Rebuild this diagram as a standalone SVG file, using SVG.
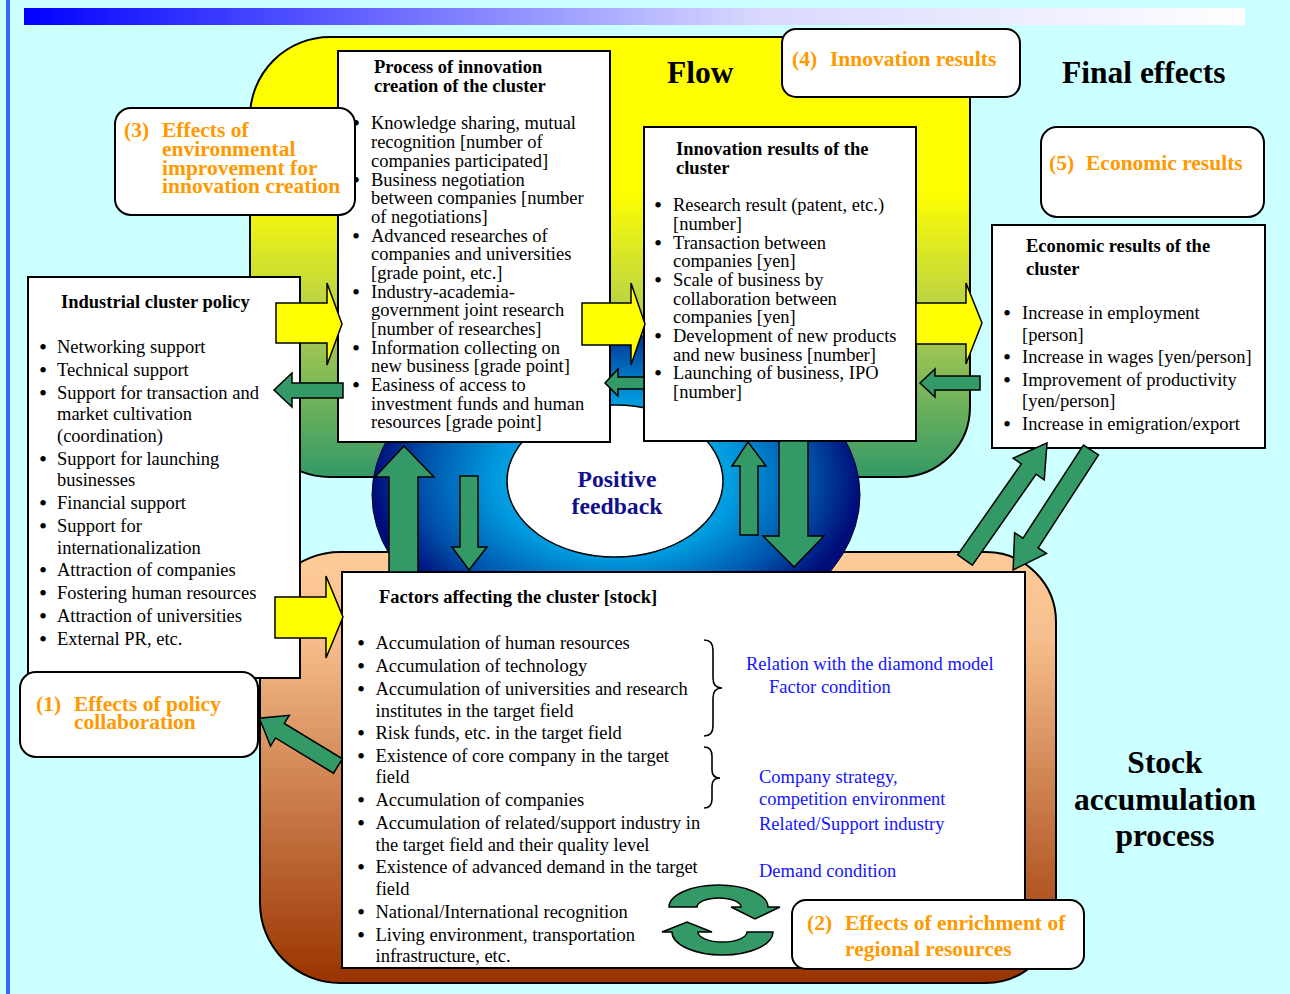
<svg xmlns="http://www.w3.org/2000/svg" width="1290" height="994" viewBox="0 0 1290 994">
<defs>
<linearGradient id="topbar" x1="0" y1="0" x2="1" y2="0">
<stop offset="0" stop-color="#0000FF"/><stop offset="0.6" stop-color="#D8D8FF"/><stop offset="1" stop-color="#FFFFFF"/>
</linearGradient>
<linearGradient id="flowg" gradientUnits="userSpaceOnUse" x1="0" y1="37" x2="0" y2="477">
<stop offset="0" stop-color="#FFFF00"/><stop offset="0.35" stop-color="#FFFF00"/><stop offset="0.65" stop-color="#B0CC50"/><stop offset="1" stop-color="#339966"/>
</linearGradient>
<linearGradient id="stockg" gradientUnits="userSpaceOnUse" x1="0" y1="552" x2="0" y2="983">
<stop offset="0" stop-color="#FFCC99"/><stop offset="0.2" stop-color="#F6BE8C"/><stop offset="1" stop-color="#993300"/>
</linearGradient>
<radialGradient id="blueg" cx="0.5" cy="0.45" r="0.5">
<stop offset="0" stop-color="#22CCFF"/><stop offset="0.5" stop-color="#0099DD"/><stop offset="0.8" stop-color="#0050A8"/><stop offset="1" stop-color="#000C7A"/>
</radialGradient>
<style>
.t{font-family:"Liberation Serif","Times New Roman",serif;font-size:18.5px;fill:#000}
.bu{font-family:"Liberation Serif","Times New Roman",serif;font-size:23px;fill:#000}
.b{font-weight:bold}
.lbl{font-family:"Liberation Serif","Times New Roman",serif;font-size:21.5px;font-weight:bold;fill:#FF9900}
.blue{fill:#1414FF}
.big{font-family:"Liberation Serif","Times New Roman",serif;font-size:31.5px;font-weight:bold;fill:#000}
.box{fill:#FFFFFF;stroke:#000;stroke-width:2}
.lb{fill:#FFFFFF;stroke:#000;stroke-width:2}
.ya{fill:#FFFF00;stroke:#000;stroke-width:1.5;stroke-linejoin:miter}
.ga{fill:#339966;stroke:#000;stroke-width:1.5;stroke-linejoin:miter}
.br{fill:none;stroke:#000;stroke-width:1.6}
</style>
</defs>

<rect x="0" y="0" width="1290" height="994" fill="#CCFFFF"/>
<rect x="6" y="0" width="4" height="994" fill="#3366FF"/>
<rect x="24" y="8" width="1221" height="17" fill="url(#topbar)"/>

<g id="flow-area">
<path d="M250,117 A80,80 0 0 1 330,37 L910,37 A60,60 0 0 1 970,97 L970,407 A70,70 0 0 1 900,477 L330,477 A80,80 0 0 1 250,397 Z" fill="url(#flowg)" stroke="#000" stroke-width="2"/>
</g>
<g id="stock-area">
<path d="M260,632 A80,80 0 0 1 340,552 L986,552 A70,70 0 0 1 1056,622 L1056,913 A70,70 0 0 1 986,983 L340,983 A80,80 0 0 1 260,903 Z" fill="url(#stockg)" stroke="#000" stroke-width="2"/>
</g>

<g id="positive-feedback">
<ellipse cx="616" cy="495" rx="244" ry="160" fill="url(#blueg)" stroke="#000033" stroke-width="1"/>
<ellipse cx="615" cy="481" rx="108" ry="76" fill="#FFFFFF" stroke="#000" stroke-width="1.5"/>
<text x="617" y="487" text-anchor="middle" font-family="Liberation Serif, Times New Roman, serif" font-size="23.7" font-weight="bold" fill="#10108C">Positive</text>
<text x="617" y="514" text-anchor="middle" font-family="Liberation Serif, Times New Roman, serif" font-size="23.7" font-weight="bold" fill="#10108C">feedback</text>
</g>

<g id="headings">
<text class="big" x="667" y="83">Flow</text>
<text class="big" x="1062" y="83">Final effects</text>
<text class="big" x="1165" y="773" text-anchor="middle">Stock</text>
<text class="big" x="1165" y="810" text-anchor="middle">accumulation</text>
<text class="big" x="1165" y="846" text-anchor="middle">process</text>
</g>

<g id="process-box">
<rect class="box" x="338" y="51" width="272" height="391"/>
<text class="t b" x="374" y="73">Process of innovation</text>
<text class="t b" x="374" y="92">creation of the cluster</text>
<g class="bu">
<text x="352" y="131">•</text><text x="352" y="187.5">•</text><text x="352" y="243.5">•</text>
<text x="352" y="299.5">•</text><text x="352" y="355.5">•</text><text x="352" y="393">•</text>
</g>
<g class="t">
<text x="371" y="129">Knowledge sharing, mutual</text>
<text x="371" y="148">recognition [number of</text>
<text x="371" y="167">companies participated]</text>
<text x="371" y="185.5">Business negotiation</text>
<text x="371" y="204">between companies [number</text>
<text x="371" y="223">of negotiations]</text>
<text x="371" y="241.5">Advanced researches of</text>
<text x="371" y="260">companies and universities</text>
<text x="371" y="279">[grade point, etc.]</text>
<text x="371" y="297.5">Industry-academia-</text>
<text x="371" y="316">government joint research</text>
<text x="371" y="335">[number of researches]</text>
<text x="371" y="353.5">Information collecting on</text>
<text x="371" y="372">new business [grade point]</text>
<text x="371" y="391">Easiness of access to</text>
<text x="371" y="409.5">investment funds and human</text>
<text x="371" y="428">resources [grade point]</text>
</g>
</g>

<g id="innovation-box">
<rect class="box" x="644" y="127" width="272" height="314"/>
<text class="t b" x="676" y="155">Innovation results of the</text>
<text class="t b" x="676" y="174">cluster</text>
<g class="bu">
<text x="654" y="213">•</text><text x="654" y="250.5">•</text><text x="654" y="288">•</text>
<text x="654" y="344">•</text><text x="654" y="381">•</text>
</g>
<g class="t">
<text x="673" y="211">Research result (patent, etc.)</text>
<text x="673" y="230">[number]</text>
<text x="673" y="248.5">Transaction between</text>
<text x="673" y="267">companies [yen]</text>
<text x="673" y="286">Scale of business by</text>
<text x="673" y="304.5">collaboration between</text>
<text x="673" y="323">companies [yen]</text>
<text x="673" y="342">Development of new products</text>
<text x="673" y="360.5">and new business [number]</text>
<text x="673" y="379">Launching of business, IPO</text>
<text x="673" y="398">[number]</text>
</g>
</g>

<g id="economic-box">
<rect class="box" x="992" y="225" width="273" height="223"/>
<text class="t b" x="1026" y="252">Economic results of the</text>
<text class="t b" x="1026" y="275">cluster</text>
<g class="bu">
<text x="1003" y="321">•</text><text x="1003" y="365">•</text><text x="1003" y="388">•</text><text x="1003" y="432">•</text>
</g>
<g class="t">
<text x="1022" y="319">Increase in employment</text>
<text x="1022" y="341">[person]</text>
<text x="1022" y="363">Increase in wages [yen/person]</text>
<text x="1022" y="386">Improvement of productivity</text>
<text x="1022" y="407">[yen/person]</text>
<text x="1022" y="430">Increase in emigration/export</text>
</g>
</g>

<g id="policy-box">
<rect class="box" x="28" y="277" width="272" height="401"/>
<text class="t b" x="61" y="308">Industrial cluster policy</text>
<g class="bu">
<text x="39" y="355">•</text><text x="39" y="378">•</text><text x="39" y="401">•</text><text x="39" y="467">•</text>
<text x="39" y="511">•</text><text x="39" y="534">•</text><text x="39" y="578">•</text><text x="39" y="601">•</text>
<text x="39" y="624">•</text><text x="39" y="647">•</text>
</g>
<g class="t">
<text x="57" y="353">Networking support</text>
<text x="57" y="376">Technical support</text>
<text x="57" y="399">Support for transaction and</text>
<text x="57" y="420">market cultivation</text>
<text x="57" y="442">(coordination)</text>
<text x="57" y="465">Support for launching</text>
<text x="57" y="486">businesses</text>
<text x="57" y="509">Financial support</text>
<text x="57" y="532">Support for</text>
<text x="57" y="554">internationalization</text>
<text x="57" y="576">Attraction of companies</text>
<text x="57" y="599">Fostering human resources</text>
<text x="57" y="622">Attraction of universities</text>
<text x="57" y="645">External PR, etc.</text>
</g>
</g>

<g id="factors-box">
<rect class="box" x="342" y="572" width="683" height="396"/>
<text class="t b" x="379" y="603">Factors affecting the cluster [stock]</text>
<g class="bu">
<text x="357" y="651">•</text><text x="357" y="674">•</text><text x="357" y="697">•</text><text x="357" y="741">•</text>
<text x="357" y="764">•</text><text x="357" y="808">•</text><text x="357" y="831">•</text><text x="357" y="875">•</text>
<text x="357" y="920">•</text><text x="357" y="943">•</text>
</g>
<g class="t">
<text x="375.5" y="649">Accumulation of human resources</text>
<text x="375.5" y="672">Accumulation of technology</text>
<text x="375.5" y="695">Accumulation of universities and research</text>
<text x="375.5" y="717">institutes in the target field</text>
<text x="375.5" y="739">Risk funds, etc. in the target field</text>
<text x="375.5" y="762">Existence of core company in the target</text>
<text x="375.5" y="783">field</text>
<text x="375.5" y="806">Accumulation of companies</text>
<text x="375.5" y="829">Accumulation of related/support industry in</text>
<text x="375.5" y="851">the target field and their quality level</text>
<text x="375.5" y="873">Existence of advanced demand in the target</text>
<text x="375.5" y="895">field</text>
<text x="375.5" y="918">National/International recognition</text>
<text x="375.5" y="941">Living environment, transportation</text>
<text x="375.5" y="962">infrastructure, etc.</text>
</g>
<path class="br" d="M704,640 Q713,640 713,650 L713,678 Q713,688 722,688 Q713,688 713,698 L713,726 Q713,736 704,736"/>
<path class="br" d="M704,747 Q712,747 712,756 L712,770 Q712,778 720,778 Q712,778 712,786 L712,799 Q712,808 704,808"/>
<g class="t blue">
<text x="746" y="670">Relation with the diamond model</text>
<text x="769" y="693">Factor condition</text>
<text x="759" y="783">Company strategy,</text>
<text x="759" y="805">competition environment</text>
<text x="759" y="830">Related/Support industry</text>
<text x="759" y="877">Demand condition</text>
</g>
</g>

<g id="connectors">
<polygon class="ya" points="276,303 327,303 327,283 342,324 327,365 327,343 276,343"/>
<polygon class="ya" points="275,597 326,597 326,576 343,617 326,658 326,638 275,638"/>
<polygon class="ya" points="582,303 631,303 631,283 645,324 631,365 631,345 582,345"/>
<polygon class="ya" points="916,303 966,303 966,283 982,323 966,364 966,344 916,344"/>
<polygon class="ga" points="274,390 292,373 292,383 343,383 343,398 292,398 292,407"/>
<polygon class="ga" points="605,383 618,369 618,377 644,377 644,389 618,389 618,396"/>
<polygon class="ga" points="920,383 935,369 935,376 980,376 980,390 935,390 935,397"/>
<polygon class="ga" points="404,446 434,477 418,477 418,572 389,572 389,477 375,477"/>
<polygon class="ga" points="460,476 478,476 478,547 487,547 469,570 452,547 460,547"/>
<polygon class="ga" points="748,442 766,466 758,466 758,535 740,535 740,466 732,466"/>
<polygon class="ga" points="779,441 808,441 808,536 824,536 794,567 763,536 779,536"/>
<polygon class="ga" transform="translate(338,766) rotate(211.3)" points="0,-8.5 68,-8.5 68,-18 92,0 68,18 68,8.5 0,8.5"/>
<polygon class="ga" transform="translate(965,560) rotate(-55)" points="0,-9 111,-9 111,-19 143,0 111,19 111,9 0,9"/>
<polygon class="ga" transform="translate(1091,450) rotate(123)" points="0,-9 111,-9 111,-19 143,0 111,19 111,9 0,9"/>
<path class="ga" d="M669,907 A49.5,22 0 0 1 768,907 L780,907 L755,919 L731,907 L741,907 A22,9 0 0 0 697,907 Z"/>
<path class="ga" d="M773,932 A50.5,23 0 0 1 672,932 L662,932 L687,922 L712,932 L698,932 A24.5,10 0 0 0 747,932 Z"/>
</g>

<g id="label-3">
<rect class="lb" x="115" y="108" width="240" height="107" rx="16"/>
<text class="lbl" x="124" y="137">(3)</text>
<text class="lbl" x="162" y="137">Effects of</text>
<text class="lbl" x="162" y="156">environmental</text>
<text class="lbl" x="162" y="175">improvement for</text>
<text class="lbl" x="162" y="193">innovation creation</text>
</g>
<g id="label-4">
<rect class="lb" x="782" y="29" width="238" height="68" rx="14"/>
<text class="lbl" x="792" y="66">(4)</text>
<text class="lbl" x="830" y="66">Innovation results</text>
</g>
<g id="label-5">
<rect class="lb" x="1041" y="127" width="223" height="90" rx="16"/>
<text class="lbl" x="1049" y="170">(5)</text>
<text class="lbl" x="1086" y="170">Economic results</text>
</g>
<g id="label-1">
<rect class="lb" x="20" y="672" width="238" height="85" rx="16"/>
<text class="lbl" x="36" y="711">(1)</text>
<text class="lbl" x="74" y="711">Effects of policy</text>
<text class="lbl" x="74" y="729">collaboration</text>
</g>
<g id="label-2">
<rect class="lb" x="792" y="900" width="292" height="69" rx="14"/>
<text class="lbl" x="807" y="930">(2)</text>
<text class="lbl" x="845" y="930">Effects of enrichment of</text>
<text class="lbl" x="845" y="956">regional resources</text>
</g>
</svg>
